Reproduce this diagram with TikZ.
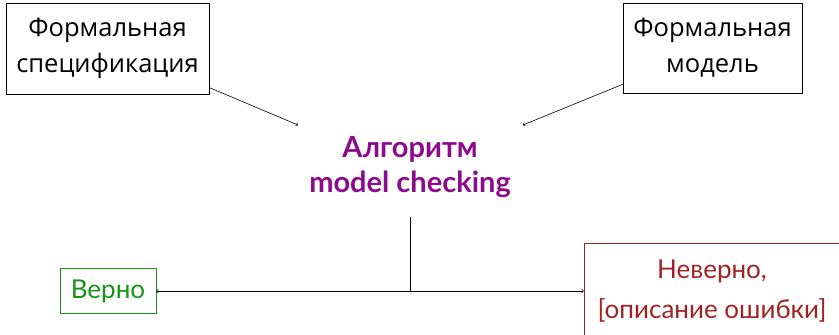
\documentclass[tikz,border=0pt]{standalone}
\usepackage{fontspec}
\setmainfont{Open Sans}
\newfontfamily\cmfont{Lato}
\definecolor{algcolor}{RGB}{140,10,140}
\definecolor{okcolor}{RGB}{20,150,20}
\definecolor{errcolor}{RGB}{160,35,35}

\begin{document}
\begin{tikzpicture}[x=1pt,y=1pt]
    \tikzset{box/.style = {draw, line width=0.6pt, align=center, font=\fontsize{25.5}{36}\selectfont, inner sep=0pt}}
    \tikzset{res/.style = {draw, line width=0.6pt, align=center, font=\cmfont\fontsize{26}{40}\selectfont, inner sep=0pt}}
    \tikzset{link/.style = {line width=0.6pt}}
    \useasboundingbox (0,0) rectangle (839,335);
    \node[box, minimum width=203, minimum height=91] (spec) at (107.5,286.5) {Формальная\\спецификация};
    \node[box, minimum width=179, minimum height=90] (model) at (712.5,287) {Формальная\\модель};
    \node[align=center, text=algcolor, font=\cmfont\bfseries\fontsize{29}{35}\selectfont] (algo) at (410,168) {Алгоритм\\model checking};
    \node[res, draw=okcolor, text=okcolor, minimum width=96, minimum height=45] (ok) at (108,44) {Верно};
    \node[res, draw=errcolor, text=errcolor, minimum width=256, minimum height=96] (err) at (712,44) {Неверно,\\{[}описание ошибки{]}};
    \coordinate (inA) at (298,210);
    \coordinate (inB) at (523,210);
    \coordinate (top) at (410,118);
    \coordinate (split) at (410,44);
    \draw[link, ->] (spec.-21) -- (inA);
    \draw[link, ->] (model.202) -- (inB);
    \draw[link] (top) -- (split);
    \draw[link, <->] (ok) -- (err);
\end{tikzpicture}
\end{document}
